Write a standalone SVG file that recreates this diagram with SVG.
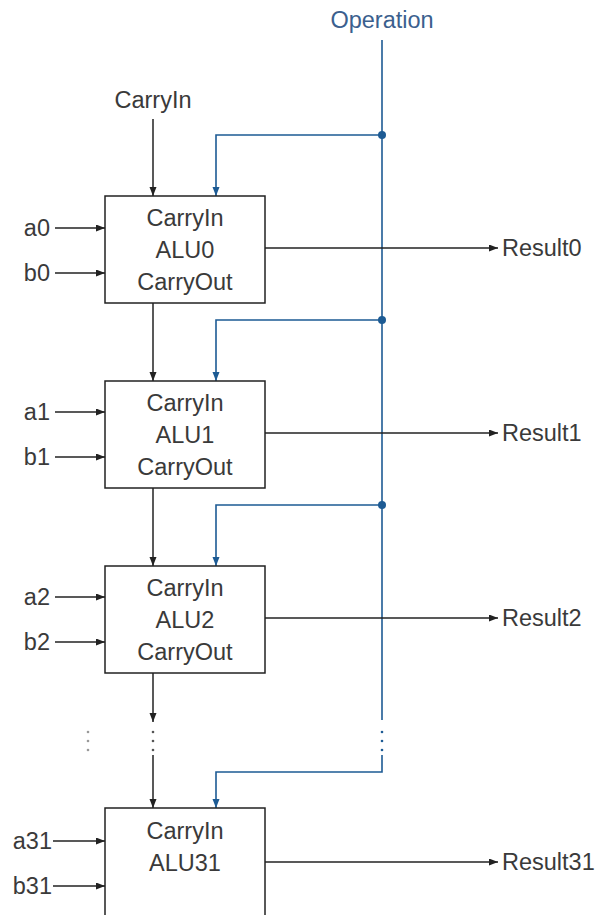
<svg xmlns="http://www.w3.org/2000/svg" width="595" height="915" viewBox="0 0 595 915">
<defs>
<style>
text{font-family:"Liberation Sans",Arial,sans-serif;font-size:23.5px;fill:#3a3a3a}
.c{text-anchor:middle}
.e{text-anchor:end}
.op{fill:#3b5f8e}
.box{fill:#fff;stroke:#222;stroke-width:1.5}
.k{stroke:#222;stroke-width:1.5;fill:none}
.b{stroke:#1d5b94;stroke-width:1.6;fill:none}
.ka{marker-end:url(#ak)}
.ba{marker-end:url(#ab)}
.dk{fill:#555}
.dg{fill:#999}
.db{fill:#1d5b94}
</style>
<marker id="ak" markerUnits="userSpaceOnUse" markerWidth="10" markerHeight="8" refX="9" refY="3.5" orient="auto"><path d="M0,0 L9,3.5 L0,7 z" fill="#222"/></marker>
<marker id="ab" markerUnits="userSpaceOnUse" markerWidth="10" markerHeight="8" refX="9" refY="3.5" orient="auto"><path d="M0,0 L9,3.5 L0,7 z" fill="#1d5b94"/></marker>
</defs>
<rect width="595" height="915" fill="#fff"/>

<g id="connectors">
<line class="k ka" x1="153" y1="119" x2="153" y2="196"/>
<line class="k ka" x1="153" y1="303" x2="153" y2="381"/>
<line class="k ka" x1="153" y1="488" x2="153" y2="566"/>
<line class="k ka" x1="153" y1="673" x2="153" y2="722"/>
<line class="k ka" x1="153" y1="755" x2="153" y2="808"/>
<line class="b" x1="382" y1="40" x2="382" y2="720"/>
<polyline class="b ba" points="382,755 382,772 216,772 216,808"/>
<polyline class="b ba" points="382,135 216,135 216,196"/>
<polyline class="b ba" points="382,320 216,320 216,381"/>
<polyline class="b ba" points="382,505 216,505 216,566"/>
<circle class="db" cx="382" cy="135" r="4"/>
<circle class="db" cx="382" cy="320" r="4"/>
<circle class="db" cx="382" cy="505" r="4"/>
<line class="k ka" x1="55" y1="228" x2="105" y2="228"/>
<line class="k ka" x1="55" y1="273" x2="105" y2="273"/>
<line class="k ka" x1="55" y1="412" x2="105" y2="412"/>
<line class="k ka" x1="55" y1="457" x2="105" y2="457"/>
<line class="k ka" x1="55" y1="597" x2="105" y2="597"/>
<line class="k ka" x1="55" y1="642" x2="105" y2="642"/>
<line class="k ka" x1="53" y1="841" x2="105" y2="841"/>
<line class="k ka" x1="53" y1="886" x2="105" y2="886"/>
<line class="k ka" x1="265" y1="248" x2="498" y2="248"/>
<line class="k ka" x1="265" y1="433" x2="498" y2="433"/>
<line class="k ka" x1="265" y1="618" x2="498" y2="618"/>
<line class="k ka" x1="265" y1="862" x2="498" y2="862"/>
<circle class="dg" cx="88" cy="732" r="1.3"/>
<circle class="dg" cx="88" cy="741" r="1.3"/>
<circle class="dg" cx="88" cy="750" r="1.3"/>
<circle class="dk" cx="153" cy="732" r="1.3"/>
<circle class="dk" cx="153" cy="741" r="1.3"/>
<circle class="dk" cx="153" cy="750" r="1.3"/>
<circle class="db" cx="382" cy="732" r="1.3"/>
<circle class="db" cx="382" cy="741" r="1.3"/>
<circle class="db" cx="382" cy="750" r="1.3"/>
</g>

<g id="operation"><text class="c op" x="382" y="28">Operation</text></g>
<g id="carryin"><text class="c" x="153" y="108">CarryIn</text></g>

<g id="alu0">
<rect class="box" x="105" y="196" width="160" height="107"/>
<text class="c" x="185" y="226">CarryIn</text>
<text class="c" x="185" y="258">ALU0</text>
<text class="c" x="185" y="290">CarryOut</text>
</g>
<g id="alu1">
<rect class="box" x="105" y="381" width="160" height="107"/>
<text class="c" x="185" y="411">CarryIn</text>
<text class="c" x="185" y="443">ALU1</text>
<text class="c" x="185" y="475">CarryOut</text>
</g>
<g id="alu2">
<rect class="box" x="105" y="566" width="160" height="107"/>
<text class="c" x="185" y="596">CarryIn</text>
<text class="c" x="185" y="628">ALU2</text>
<text class="c" x="185" y="660">CarryOut</text>
</g>
<g id="alu31">
<rect class="box" x="105" y="808" width="160" height="130"/>
<text class="c" x="185" y="839">CarryIn</text>
<text class="c" x="185" y="871">ALU31</text>
</g>

<g id="in-a0"><text class="e" x="50" y="236">a0</text></g>
<g id="in-b0"><text class="e" x="50" y="281">b0</text></g>
<g id="in-a1"><text class="e" x="50" y="420">a1</text></g>
<g id="in-b1"><text class="e" x="50" y="465">b1</text></g>
<g id="in-a2"><text class="e" x="50" y="605">a2</text></g>
<g id="in-b2"><text class="e" x="50" y="650">b2</text></g>
<g id="in-a31"><text class="e" x="52" y="849">a31</text></g>
<g id="in-b31"><text class="e" x="52" y="894">b31</text></g>

<g id="out-r0"><text x="502" y="256">Result0</text></g>
<g id="out-r1"><text x="502" y="441">Result1</text></g>
<g id="out-r2"><text x="502" y="626">Result2</text></g>
<g id="out-r31"><text x="502" y="870">Result31</text></g>
</svg>
